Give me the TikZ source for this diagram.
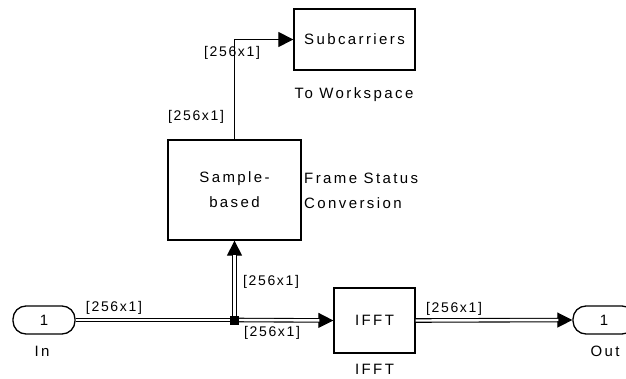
\documentclass[tikz,border=0pt]{standalone}
\usepackage{fontspec}
\setmainfont{Liberation Sans}
\newfontfamily\blkfont{Liberation Sans}[LetterSpace=16]
\newfontfamily\sigfont{Liberation Sans}[LetterSpace=12]
\usetikzlibrary{arrows.meta,positioning}

\begin{document}
\begin{tikzpicture}[x=1pt,y=-1pt,>={Triangle[length=15pt,width=15pt]}]
    \tikzstyle{block}=[draw, line width=1.3pt, inner sep=0pt, align=center, font=\blkfont\fontsize{15}{25}\selectfont]
    \tikzstyle{port}=[block, rounded corners=13pt, minimum width=62pt, minimum height=28pt]
    \tikzstyle{caption}=[inner sep=0pt, align=left, font=\blkfont\fontsize{15}{25}\selectfont]
    \tikzstyle{sig}=[inner sep=0pt, font=\sigfont\fontsize{14}{16}\selectfont]
    \tikzstyle{vec}=[double, line width=1.1pt, double distance=2.4pt]
    \tikzstyle{vectip}=[line width=1.1pt, ->]
  \useasboundingbox (0,0) rectangle (626,379);
  %blocks
  \node[port] (in) at (44,320) {1};
  \node[port] (out) at (604,320) {1};
  \node[block, minimum width=81pt, minimum height=65pt] (ifft) at (374.5,320.5) {IFFT};
  \node[block, minimum width=133pt, minimum height=100pt] (samp) at (234.5,190) {Sample-\\based};
  \node[block, minimum width=121pt, minimum height=61pt] (sub) at (354.5,39.5) {Subcarriers};
  \node[fill, minimum size=9pt, inner sep=0pt] (junc) at (234.5,320) {};
  %block names
  \node[caption] (inname) at (42,351) {In};
  \node[caption] (outname) at (605,351) {Out};
  \node[caption] (ifftname) at (374.5,369) {IFFT};
  \node[caption] (subname) at (354,94.5) {To Workspace};
  \node[caption, anchor=west] (sampname) at (304,190.5) {Frame Status\\Conversion};
  %signal lines (tip drawn first, double line laid over it)
  \draw[vec] (in.east) -- (junc.center);
  \draw[vectip] (junc.center) -- (ifft.west);
  \draw[vec, shorten >=14pt] (junc.center) -- (ifft.west);
  \draw[vectip] (junc.center) -- (samp.south);
  \draw[vec, shorten >=14pt] (junc.center) -- (samp.south);
  \draw[vectip] (ifft.east) -- (out.west);
  \draw[vec, shorten >=14pt] (ifft.east) -- (out.west);
  \node[fill, minimum size=9pt, inner sep=0pt] at (junc) {};
  \draw[line width=1.1pt, ->] (samp.north) |- (sub.west);
  %signal dimensions
  \node[sig] (d1) at (114,308) {[256x1]};
  \node[sig] (d2) at (271,282) {[256x1]};
  \node[sig] (d3) at (272,333) {[256x1]};
  \node[sig] (d4) at (454,309) {[256x1]};
  \node[sig] (d5) at (196,117) {[256x1]};
  \node[sig] (d6) at (232,53) {[256x1]};
\end{tikzpicture}
\end{document}
